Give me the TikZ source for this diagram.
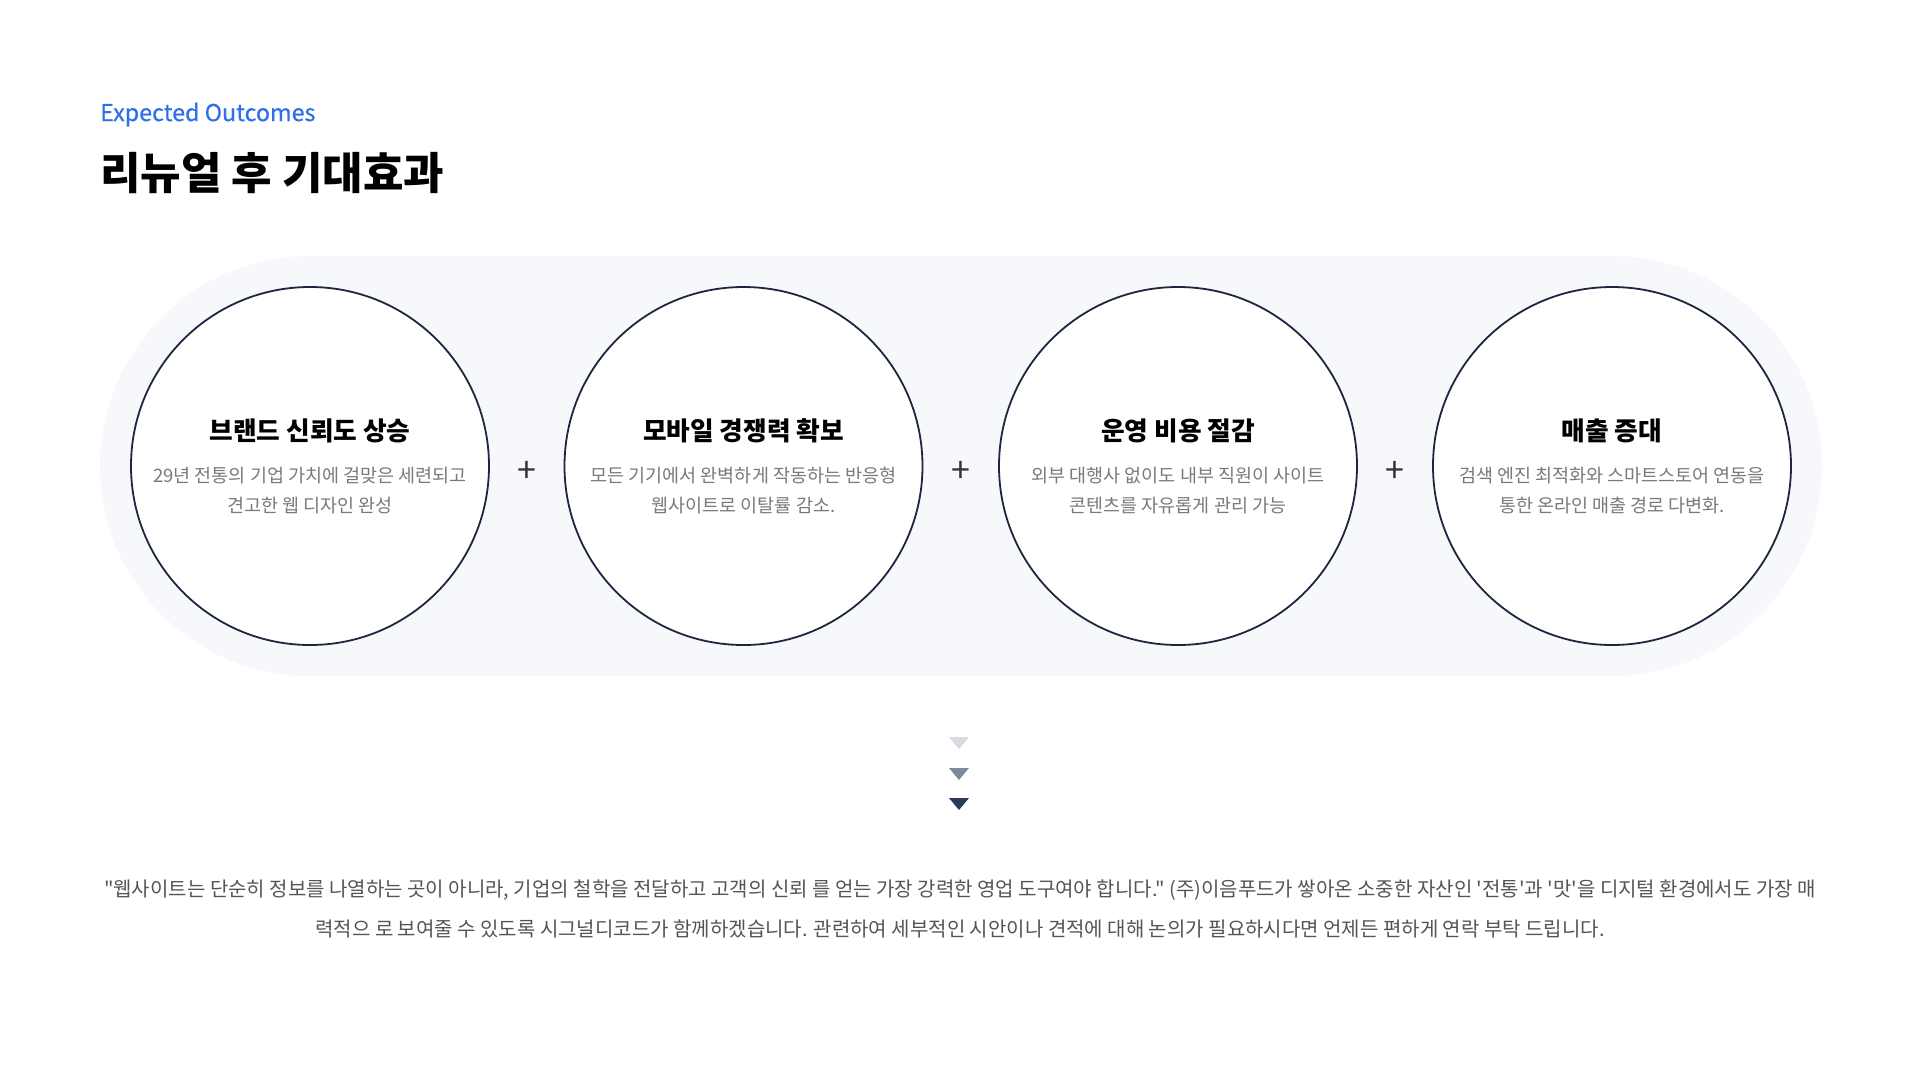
\documentclass[tikz,border=0pt]{standalone}
\usepackage{fontspec}
\newfontfamily\kr{Noto Sans CJK KR}
\newfontfamily\krmed{Noto Sans CJK KR}[FakeBold=0.5]
\usetikzlibrary{positioning}
\definecolor{pillbg}{HTML}{F6F8FC}
\definecolor{ringc}{HTML}{1E2540}
\definecolor{bluet}{HTML}{2F6FEB}
\definecolor{subg}{HTML}{7A7A7A}
\definecolor{bodyg}{HTML}{555555}
\definecolor{arA}{HTML}{D6DAE1}
\definecolor{arB}{HTML}{7F899C}
\definecolor{arC}{HTML}{2B3A5A}
\tikzset{
  ring/.style={circle, draw=ringc, line width=1.8pt, fill=white, minimum size=358pt, inner sep=0pt},
  ctitle/.style={font=\kr\bfseries\fontsize{25.7}{30}\selectfont, text=black, anchor=center},
  csub/.style={font=\kr\fontsize{18.5}{29.4}\selectfont, text=subg, align=center, anchor=north},
  plussign/.style={font=\kr\fontsize{34}{34}\selectfont, text=black!80},
  bodyline/.style={font=\kr\fontsize{20}{24}\selectfont, text=bodyg, anchor=center}
}
\begin{document}
\begin{tikzpicture}[x=1pt,y=-1pt]
\path[use as bounding box, fill=white] (0,0) rectangle (1920,1080);
% header
\node[anchor=west, font=\krmed\fontsize{23.3}{26}\selectfont, text=bluet, inner sep=0pt] (eyebrow) at (100,114.5) {Expected Outcomes};
\node[anchor=west, font=\kr\bfseries\fontsize{44}{48}\selectfont, text=black, inner sep=0pt] (title) at (100,173) {리뉴얼 후 기대효과};
% pill
\path[fill=pillbg, rounded corners=210pt] (100,256) rectangle (1822,676);
% circles
\node[ring] (c1) at (310,466) {};
\node[ring] (c2) at (743.5,466) {};
\node[ring] (c3) at (1178,466) {};
\node[ring] (c4) at (1612,466) {};
% plus signs
\node[plussign] (p1) at (526.5,471.5) {+};
\node[plussign] (p2) at (961,471.5) {+};
\node[plussign] (p3) at (1395,471.5) {+};
% texts
\node[ctitle] (t1) at (310,430.5) {브랜드 신뢰도 상승};
\node[csub] (s1) at (310,464) {29년 전통의 기업 가치에 걸맞은 세련되고\\견고한 웹 디자인 완성};
\node[ctitle] (t2) at (743.5,430.5) {모바일 경쟁력 확보};
\node[csub] (s2) at (743.5,464) {모든 기기에서 완벽하게 작동하는 반응형\\웹사이트로 이탈률 감소.};
\node[ctitle] (t3) at (1178,430.5) {운영 비용 절감};
\node[csub] (s3) at (1178,464) {외부 대행사 없이도 내부 직원이 사이트\\콘텐츠를 자유롭게 관리 가능};
\node[ctitle] (t4) at (1612,430.5) {매출 증대};
\node[csub] (s4) at (1612,464) {검색 엔진 최적화와 스마트스토어 연동을\\통한 온라인 매출 경로 다변화.};
% arrows
\fill[arA] (949,737) -- (969,737) -- (959,749) -- cycle;
\fill[arB] (949,768) -- (969,768) -- (959,780) -- cycle;
\fill[arC] (949,798) -- (969,798) -- (959,810) -- cycle;
% body text
\node[bodyline] (b1) at (960,890) {"웹사이트는 단순히 정보를 나열하는 곳이 아니라, 기업의 철학을 전달하고 고객의 신뢰 를 얻는 가장 강력한 영업 도구여야 합니다." (주)이음푸드가 쌓아온 소중한 자산인 '전통'과 '맛'을 디지털 환경에서도 가장 매};
\node[bodyline] (b2) at (960,929) {력적으 로 보여줄 수 있도록 시그널디코드가 함께하겠습니다. 관련하여 세부적인 시안이나 견적에 대해 논의가 필요하시다면 언제든 편하게 연락 부탁 드립니다.};
\end{tikzpicture}
\end{document}
